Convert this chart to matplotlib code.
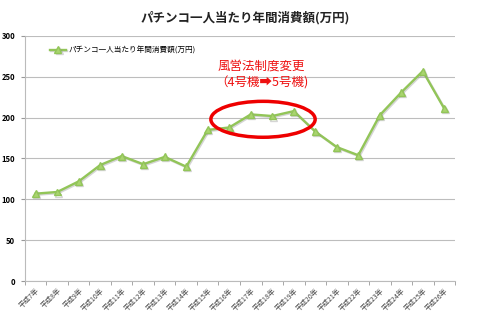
import numpy as np
import matplotlib
matplotlib.use('Agg')
import matplotlib.pyplot as plt
import matplotlib.patheffects as pe
from matplotlib.patches import Ellipse

plt.rcParams['font.family'] = ['Noto Sans CJK JP', 'DejaVu Sans']

# データ
years = ['平成7年', '平成8年', '平成9年', '平成10年', '平成11年', '平成12年',
         '平成13年', '平成14年', '平成15年', '平成16年', '平成17年', '平成18年',
         '平成19年', '平成20年', '平成21年', '平成22年', '平成23年', '平成24年',
         '平成25年', '平成26年']
spend = [107, 109, 122, 142, 153, 143, 152, 140, 185, 188, 204, 202,
         208, 183, 164, 154, 203, 231, 257, 211]
series_name = 'パチンコ一人当たり年間消費額(万円)'

green = '#92C558'

fig = plt.figure(figsize=(4.8, 3.32), dpi=100)
ax = fig.add_axes([0.052, 0.1536, 0.896, 0.738])

x = np.arange(len(years))
shadow = [pe.SimpleLineShadow(offset=(0.8, -0.8), shadow_color='#888888', alpha=0.35), pe.Normal()]
ax.plot(x, spend, color=green, lw=1.7, marker='^', ms=5,
        markerfacecolor='#A9D46F', markeredgecolor=green, label=series_name,
        path_effects=shadow, zorder=3)

ax.set_xlim(-0.5, len(years) - 0.5)
ax.set_ylim(0, 300)
ax.set_yticks(range(0, 301, 50))
ax.yaxis.grid(True, color='#BDBDBD', lw=0.8)
ax.set_axisbelow(True)

# 目盛り
ax.set_xticks(x)
ax.set_xticklabels(years, rotation=45, ha='right', rotation_mode='anchor', fontsize=5, color='#444444')
ax.set_xticks(np.arange(-0.5, len(years)), minor=True)
ax.tick_params(axis='x', which='major', length=0, pad=4)
ax.tick_params(axis='x', which='minor', length=3, color='#999999')
ax.tick_params(axis='y', length=3, color='#999999', labelsize=5.5, pad=4)
for t in ax.get_yticklabels():
    t.set_fontweight('bold')

for s in ['top', 'right']:
    ax.spines[s].set_visible(False)
for s in ['left', 'bottom']:
    ax.spines[s].set_color('#BBBBBB')

fig.text(0.51, 0.945, series_name, ha='center', va='center', fontsize=9, fontweight='bold', color='#222222')

ax.legend(loc='upper left', bbox_to_anchor=(0.05, 0.97), frameon=False, fontsize=5.5,
          handlelength=2.2, handletextpad=0.3, borderaxespad=0)

# 注釈
ax.text(10.5, 263, '風営法制度変更', color='#EE1111', fontsize=9, ha='center', va='center')
ax.text(10.5, 242, '（4号機➡5号機)', color='#EE1111', fontsize=9, ha='center', va='center',
        family=['Noto Sans CJK JP', 'DejaVu Sans'])
ax.add_patch(Ellipse((10.57, 198), 4.85, 44, fill=False, ec='#EE0000', lw=2.5, zorder=4))

fig.savefig('out.png', dpi=100)
